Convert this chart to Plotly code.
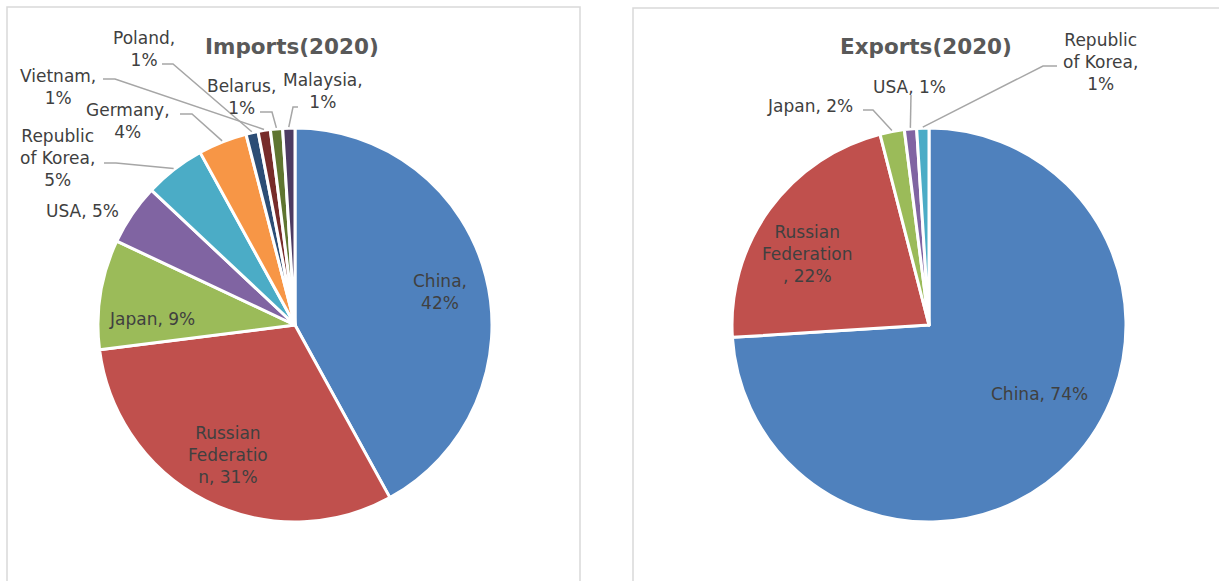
import math
import plotly.graph_objects as go

# ---- data -------------------------------------------------------------
imp_countries = ["China", "Russian Federation", "Japan", "USA", "Republic of Korea",
                 "Germany", "Poland", "Vietnam", "Belarus", "Malaysia"]
imp_share = [42, 31, 9, 5, 5, 4, 1, 1, 1, 1]

exp_countries = ["China", "Russian Federation", "Japan", "USA", "Republic of Korea"]
exp_share = [74, 22, 2, 1, 1]

imp_title = "Imports(2020)"
exp_title = "Exports(2020)"

# ---- styling ------------------------------------------------------------
W, H = 1219, 581
PALETTE = ["#4F81BD", "#C0504D", "#9BBB59", "#8064A2", "#4BACC6",
           "#F79646", "#2C4D75", "#772C2A", "#5F7530", "#4D3B62"]
FONT = "DejaVu Sans"
TEXT_COLOR = "#404040"
TITLE_COLOR = "#595959"
LEADER_COLOR = "#A6A6A6"
BORDER_COLOR = "#D9D9D9"
RADIUS = 197

# pie centres in pixels
imp_center = (295, 325)
exp_center = (929, 325)

# label layout per slice: wrap width (chars), text centre (px), leader (start, corner) or None
imp_labels = [
    (6, (440, 292), None),
    (9, (228, 455), None),
    (20, (152, 319), None),
    (20, (82, 211), None),
    (9, (58, 158), ((104, 163), (116, 163))),
    (8, (128, 121), ((180, 114), (192, 114))),
    (7, (144, 49), ((162, 64), (173, 64))),
    (8, (58, 87), ((103, 79), (115, 79))),
    (8, (241, 97), ((260, 112), (272, 112))),
    (9, (323, 91), ((298, 107), (293, 107))),
]
exp_labels = [
    (20, (1039, 394), None),
    (10, (807, 254), None),
    (20, (810, 106), ((863, 110), (873, 110))),
    (20, (909, 87), ((911, 95), (911, 95))),
    (9, (1100, 62), ((1057, 66), (1043, 66))),
]


def px(x):
    return x / W


def py(y):
    return 1 - y / H


def wrap(text, width):
    """Greedy wrap by character count, splitting long words like a spreadsheet does."""
    lines, cur = [], ""
    for word in text.split(" "):
        cand = f"{cur} {word}" if cur else word
        if len(cand) <= width:
            cur = cand
            continue
        if cur:
            lines.append(cur)
        cur = word
        while len(cur) > width:
            lines.append(cur[:width])
            cur = cur[width:]
    if cur:
        lines.append(cur)
    return "<br>".join(lines)


fig = go.Figure()
annotations = []
shapes = []


def add_pie(names, shares, center, title, label_spec):
    cx, cy = center
    fig.add_trace(go.Pie(
        labels=names,
        values=shares,
        sort=False,
        direction="clockwise",
        rotation=0,
        textinfo="none",
        hoverinfo="label+percent",
        marker=dict(colors=PALETTE[:len(names)], line=dict(color="white", width=3)),
        domain=dict(x=[px(cx - RADIUS), px(cx + RADIUS)],
                    y=[py(cy + RADIUS), py(cy - RADIUS)]),
        showlegend=False,
    ))
    annotations.append(dict(
        text=f"<b>{title}</b>", x=px(cx - 3), y=py(47), xref="paper", yref="paper",
        xanchor="center", yanchor="middle", showarrow=False,
        font=dict(family=FONT, size=21.5, color=TITLE_COLOR),
    ))
    total = sum(shares)
    cum = 0
    for name, v, (width, (tx, ty), leader) in zip(names, shares, label_spec):
        mid = (cum + v / 2) / total * 2 * math.pi
        cum += v
        annotations.append(dict(
            text=wrap(f"{name}, {v}%", width), x=px(tx), y=py(ty),
            xref="paper", yref="paper", xanchor="center", yanchor="middle",
            showarrow=False, align="center",
            font=dict(family=FONT, size=17, color=TEXT_COLOR),
        ))
        if leader:
            (sx, sy), (kx, ky) = leader
            ex = cx + (RADIUS + 1) * math.sin(mid)
            ey = cy - (RADIUS + 1) * math.cos(mid)
            shapes.append(dict(
                type="path", xref="paper", yref="paper",
                path=f"M {px(sx)},{py(sy)} L {px(kx)},{py(ky)} L {px(ex)},{py(ey)}",
                line=dict(color=LEADER_COLOR, width=1.5),
            ))


add_pie(imp_countries, imp_share, imp_center, imp_title, imp_labels)
add_pie(exp_countries, exp_share, exp_center, exp_title, exp_labels)

# chart frames
shapes.append(dict(type="rect", xref="paper", yref="paper",
                   x0=px(7), x1=px(580), y0=py(600), y1=py(7),
                   line=dict(color=BORDER_COLOR, width=1.5), layer="below"))
shapes.append(dict(type="rect", xref="paper", yref="paper",
                   x0=px(633), x1=px(1240), y0=py(600), y1=py(8),
                   line=dict(color=BORDER_COLOR, width=1.5), layer="below"))

fig.update_layout(
    width=W, height=H,
    margin=dict(l=0, r=0, t=0, b=0),
    paper_bgcolor="white",
    plot_bgcolor="white",
    annotations=annotations,
    shapes=shapes,
)

fig.write_html("out.html")
